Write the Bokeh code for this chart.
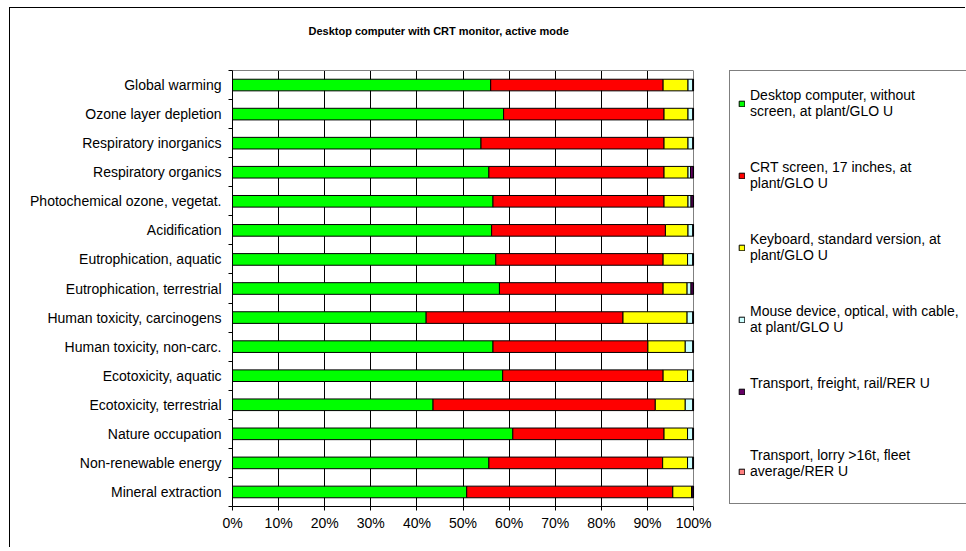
from bokeh.plotting import figure
from bokeh.models import (ColumnDataSource, FixedTicker, Legend, LegendItem, LinearAxis,
                          Grid, Title)
from bokeh.embed import file_html
from bokeh.resources import INLINE

categories = ["Global warming", "Ozone layer depletion", "Respiratory inorganics",
              "Respiratory organics", "Photochemical ozone, vegetat.", "Acidification",
              "Eutrophication, aquatic", "Eutrophication, terrestrial",
              "Human toxicity, carcinogens", "Human toxicity, non-carc.",
              "Ecotoxicity, aquatic", "Ecotoxicity, terrestrial", "Nature occupation",
              "Non-renewable energy", "Mineral extraction"]
desktop = [56.0, 58.8, 53.9, 55.6, 56.5, 56.2, 57.1, 57.9, 42.0, 56.5, 58.6, 43.5, 60.8, 55.6, 50.8]
crt = [37.4, 34.8, 39.7, 38.0, 37.1, 37.7, 36.3, 35.5, 42.7, 33.6, 34.8, 48.2, 32.8, 37.7, 44.7]
keyboard = [5.4, 5.2, 5.2, 5.2, 5.2, 4.9, 5.3, 5.2, 13.9, 8.1, 5.3, 6.5, 5.1, 5.4, 4.1]
mouse = [1.05, 1.05, 1.05, 0.55, 0.65, 1.05, 1.15, 0.85, 1.25, 1.65, 1.15, 1.65, 1.15, 1.15, 0.05]
rail = [0.1, 0.1, 0.1, 0.6, 0.5, 0.1, 0.1, 0.5, 0.1, 0.1, 0.1, 0.1, 0.1, 0.1, 0.3]
lorry = [0.05] * 15

series_names = ["Desktop computer, without\nscreen, at plant/GLO U",
                "CRT screen, 17 inches, at\nplant/GLO U",
                "Keyboard, standard version, at\nplant/GLO U",
                "Mouse device, optical, with cable,\nat plant/GLO U",
                "Transport, freight, rail/RER U\n\u00a0",
                "Transport, lorry >16t, fleet\naverage/RER U\n\u00a0"]
colors = ["#00FF00", "#FF0000", "#FFFF00", "#CCFFFF", "#660066", "#FF8080"]
x_ticks = [0, 10, 20, 30, 40, 50, 60, 70, 80, 90, 100]
x_tick_labels = ["0%", "10%", "20%", "30%", "40%", "50%", "60%", "70%", "80%", "90%", "100%"]
title_text = "Desktop computer with CRT monitor, active mode"

n = len(categories)
ypos = [n - 0.5 - i for i in range(n)]
keys = ["desktop", "crt", "keyboard", "mouse", "rail", "lorry"]
source = ColumnDataSource(dict(y=ypos, desktop=desktop, crt=crt, keyboard=keyboard,
                               mouse=mouse, rail=rail, lorry=lorry))

FONT = "Liberation Sans"
FS = "14px"
W, H = 956, 540
# frame runs to the right edge of the canvas so the legend box can sit inside it;
# the value axis itself is bounded to 0..100 %
p = figure(width=W, height=H, output_backend="svg", toolbar_location=None,
           x_range=(0, 159.2), y_range=(0, n),
           min_border_left=222, min_border_right=0, min_border_top=62, min_border_bottom=42)

renderers = p.hbar_stack(keys, y="y", height=0.4, color=colors, line_color="black",
                         line_width=1, source=source)

p.xaxis.bounds = (x_ticks[0], x_ticks[-1])
p.xaxis.ticker = FixedTicker(ticks=x_ticks)
p.xaxis.major_label_overrides = {t: l for t, l in zip(x_ticks, x_tick_labels)}
p.xaxis.major_tick_out = 4
p.xaxis.major_tick_in = 0
p.xaxis.minor_tick_line_color = None
p.xaxis.axis_line_color = "black"
p.xaxis.major_label_text_font = FONT
p.xaxis.major_label_text_font_size = FS
p.xaxis.major_label_text_color = "black"
p.xaxis.major_label_standoff = 4

p.yaxis.ticker = FixedTicker(ticks=ypos, minor_ticks=list(range(n + 1)))
p.yaxis.major_label_overrides = {y: c for y, c in zip(ypos, categories)}
p.yaxis.major_tick_line_color = None
p.yaxis.major_tick_out = 4
p.yaxis.major_tick_in = 0
p.yaxis.minor_tick_out = 4
p.yaxis.minor_tick_in = 0
p.yaxis.minor_tick_line_color = "black"
p.yaxis.axis_line_color = "black"
p.yaxis.major_label_text_font = FONT
p.yaxis.major_label_text_font_size = FS
p.yaxis.major_label_text_color = "black"
p.yaxis.major_label_standoff = 7

# top edge of the plot area (grey), bounded to the value axis
top_axis = LinearAxis(bounds=(x_ticks[0], x_ticks[-1]), ticker=FixedTicker(ticks=[]),
                      axis_line_color="#808080", major_tick_out=0, major_tick_in=0,
                      minor_tick_out=0, minor_tick_in=0, major_label_standoff=0,
                      major_label_text_font_size="1px")
p.add_layout(top_axis, "above")
# spacer so that the chart title sits higher
p.add_layout(Title(text="\u00a0", text_font_size="1px", standoff=31), "above")

p.title.text = title_text
p.title.align = "left"
p.title.offset = 76
p.title.standoff = 0
p.title.text_font = FONT
p.title.text_font_size = "11px"
p.title.text_font_style = "bold"
p.title.text_color = "black"

p.xgrid.ticker = FixedTicker(ticks=x_ticks[1:-1])
p.xgrid.grid_line_color = "black"
p.ygrid.grid_line_color = None
p.add_layout(Grid(dimension=0, ticker=FixedTicker(ticks=x_ticks[-1:]),
                  grid_line_color="#808080"))
p.outline_line_color = None
p.background_fill_color = "white"
p.border_fill_color = "white"

items = [LegendItem(label=name, renderers=[r]) for name, r in zip(series_names, renderers)]
legend = Legend(items=items, location=(497, 2), orientation="vertical",
                title="\u00a0", title_text_font_size="5px", title_standoff=2,
                label_text_font=FONT, label_text_font_size=FS, label_text_color="black",
                glyph_width=7, glyph_height=7, label_standoff=5,
                padding=8, margin=0, spacing=40,
                border_line_color="black", border_line_width=1,
                background_fill_color="white", background_fill_alpha=1)
p.add_layout(legend, "center")

p.styles = {"margin-left": "9px", "margin-top": "7px",
            "border-left": "1px solid black", "border-top": "1px solid black"}

open("out.html", "w").write(file_html(p, INLINE))
